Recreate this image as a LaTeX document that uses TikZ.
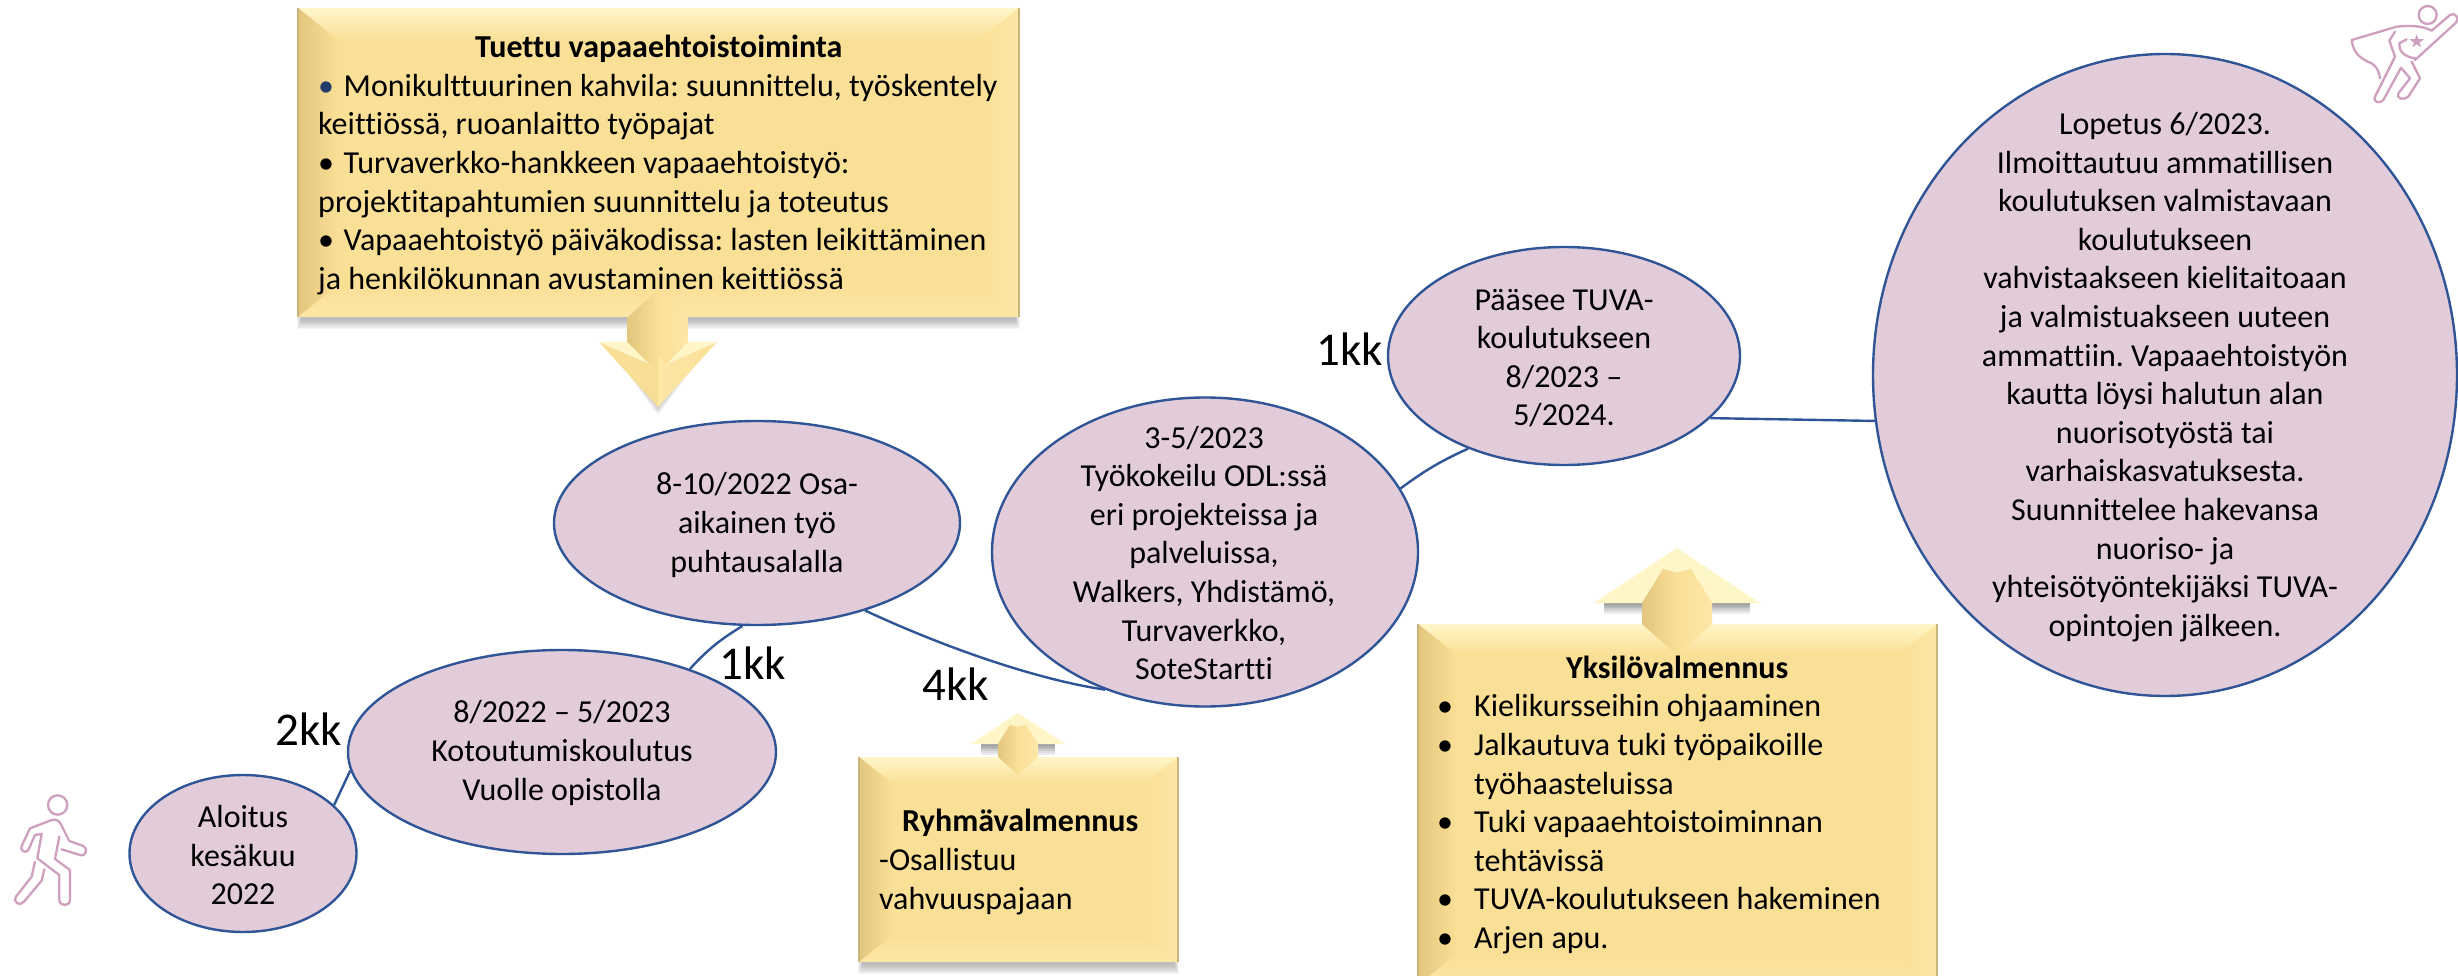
\documentclass[tikz,border=0pt]{standalone}
\usepackage{fontspec}
\setmainfont[Ligatures=NoCommon]{Carlito}
\usetikzlibrary{shapes.geometric,calc}
\definecolor{ellfill}{HTML}{E3CCDA}
\definecolor{ellline}{HTML}{2F5597}
\definecolor{boxmid}{HTML}{FADF96}
\definecolor{boxlight}{HTML}{FFF6C8}
\definecolor{boxdark}{HTML}{E3C67E}
\definecolor{boxrim}{HTML}{FDE7A6}
\definecolor{boxedge}{HTML}{C9B47C}
\definecolor{iconcol}{HTML}{CF9FBF}
\tikzset{
  ell/.style={ellipse,draw=ellline,line width=2.4pt,fill=ellfill,inner sep=0pt},
  conn/.style={draw=ellline,line width=2.4pt},
  bodytext/.style={inner sep=0pt,align=center,text=black,font=\fontsize{32pt}{38.6pt}\selectfont},
  lefttext/.style={inner sep=0pt,align=left,text=black,anchor=west,font=\fontsize{32pt}{38.6pt}\selectfont},
  kk/.style={inner sep=0pt,text=black,font=\fontsize{47pt}{50pt}\selectfont},
  icon/.style={draw=iconcol,line width=2.3pt,line cap=round,line join=round},
  boxbase/.style={fill=boxmid,draw=none,inner sep=0pt}
}
% name, left, top, right, bottom, bevel
\newcommand{\bevelbox}[6]{%
  \foreach \s in {1,...,8}{\fill[black,opacity=.035] ({#2+4-\s*.6},{#3+6}) rectangle ({#4-4+\s*.6},{#5+2+\s*1.3});}
  \node[boxbase,minimum width={(#4-#2)*1pt},minimum height={(#5-#3)*1pt}] (#1) at ({(#2+#4)/2},{(#3+#5)/2}) {};
  \shade[top color=boxlight,bottom color=boxmid] (#2,#3) -- (#4,#3) -- ({#4-#6},{#3+#6*.8}) -- ({#2+#6},{#3+#6*.8}) -- cycle;
  \shade[left color=boxdark,right color=boxmid] (#2,#3) -- ({#2+#6},{#3+#6*.8}) -- ({#2+#6},{#5-#6*.8}) -- (#2,#5) -- cycle;
  \shade[left color=boxmid,right color=boxrim] (#4,#3) -- ({#4-#6},{#3+#6*.8}) -- ({#4-#6},{#5-#6*.8}) -- (#4,#5) -- cycle;
  \shade[top color=boxmid,bottom color=boxrim] (#2,#5) -- (#4,#5) -- ({#4-#6},{#5-#6*.8}) -- ({#2+#6},{#5-#6*.8}) -- cycle;
  \draw[boxedge,line width=1.4pt] (#4,#3) -- (#4,#5);
  \draw[boxedge,line width=1.4pt] (#2,#3) -- (#2,#5);
}
% cx, apex y, wing half, wing y, shaft half, box edge y, tip y
\newcommand{\uparrowshape}[7]{%
  \foreach \s in {1,...,6}{%
    \fill[black,opacity=.07] ({#1-#3+10},{#4}) rectangle ({#1-#5},{#4+\s*1.8});
    \fill[black,opacity=.07] ({#1+#5},{#4}) rectangle ({#1+#3-10},{#4+\s*1.8});}
  \fill[boxlight] (#1,#2) -- ({#1+#3},#4) -- ({#1-#3},#4) -- cycle;
  \shade[left color=boxdark,right color=boxmid] ({#1-#5},#4) -- ({#1-#5*.4},{#4-(#4-#2)*.62}) -- (#1,{#4-(#4-#2)*.55}) -- (#1,#7) -- ({#1-#5},#6) -- cycle;
  \shade[left color=boxmid,right color=boxrim] ({#1+#5},#4) -- ({#1+#5*.4},{#4-(#4-#2)*.62}) -- (#1,{#4-(#4-#2)*.55}) -- (#1,#7) -- ({#1+#5},#6) -- cycle;
}
\begin{document}
\frenchspacing
\begin{tikzpicture}[x=1pt,y=-1pt]
\useasboundingbox (0,0) rectangle (2458,976);
\fill[white] (0,0) rectangle (2458,976);

\node[ell,minimum width=227pt,minimum height=157pt] (alo) at (243,853.5) {};
\node[ell,minimum width=428pt,minimum height=204pt] (koto) at (562,752) {};
\node[ell,minimum width=406pt,minimum height=204pt] (osa) at (757,523) {};
\node[ell,minimum width=426pt,minimum height=309pt] (tyo) at (1205,552) {};
\node[ell,minimum width=352pt,minimum height=218pt] (paa) at (1564,356) {};
\node[ell,minimum width=584pt,minimum height=642pt] (lop) at (2165,375) {};

\draw[conn] (alo.28) -- (koto.185);
\draw[conn] (koto.33) to[bend left=8] (osa.262);
\draw[conn] (osa.-39) .. controls (950,650) and (1040,680) .. (tyo.234);
\draw[conn] (tyo.18) to[bend left=6] (paa.224);
\draw[conn] (paa.-23) -- (lop.189.5);

\node[bodytext] (talo) at (243,855) {Aloitus\\kesäkuu\\2022};
\node[bodytext] (tkoto) at (562,753) {8/2022 – 5/2023\\Kotoutumiskoulutus\\Vuolle opistolla};
\node[bodytext] (tosa) at (757,525) {8-10/2022 Osa-\\aikainen työ\\puhtausalalla};
\node[bodytext] (ttyo) at (1204,553) {3-5/2023\\Työkokeilu ODL:ssä\\eri projekteissa ja\\palveluissa,\\Walkers, Yhdistämö,\\Turvaverkko,\\SoteStartti};
\node[bodytext] (tpaa) at (1564,358) {Pääsee TUVA-\\koulutukseen\\8/2023 –\\5/2024.};
\node[bodytext] (tlop) at (2165,377) {Lopetus 6/2023.\\Ilmoittautuu ammatillisen\\koulutuksen valmistavaan\\koulutukseen\\vahvistaakseen kielitaitoaan\\ja valmistuakseen uuteen\\ammattiin. Vapaaehtoistyön\\kautta löysi halutun alan\\nuorisotyöstä tai\\varhaiskasvatuksesta.\\Suunnittelee hakevansa\\nuoriso- ja\\yhteisötyöntekijäksi TUVA-\\opintojen jälkeen.};

\node[kk] (k2) at (309,729) {2kk};
\node[kk] (k1a) at (753,663) {1kk};
\node[kk] (k4) at (956,684) {4kk};
\node[kk] (k1b) at (1350,349) {1kk};

% boxes
\bevelbox{b1}{298}{8}{1019}{317}{40}
\bevelbox{b2}{859}{757}{1178}{962}{33}
\bevelbox{b3}{1418}{624}{1937}{985}{38}

% down arrow
\foreach \s in {1,...,6}{%
  \fill[black,opacity=.03] (605,342) -- (711,342) -- (658,{407+\s*1.5}) -- cycle;
  \fill[black,opacity=.04] (627,318) rectangle (688,{318+\s*2});}
\shade[left color=boxdark,right color=boxmid] (627,318) -- (658,290) -- (658,370) -- (627,350) -- cycle;
\shade[left color=boxmid,right color=boxrim] (688,318) -- (658,290) -- (658,370) -- (688,350) -- cycle;
\shade[left color=boxmid,right color=boxmid!92!boxdark] (599,342) -- (649,364) -- (658,356) -- (658,407) -- cycle;
\shade[left color=boxrim,right color=boxmid] (717,342) -- (667,364) -- (658,356) -- (658,407) -- cycle;
\fill[boxlight] (599,342) -- (627,342) -- (649,364) -- cycle;
\fill[boxlight] (717,342) -- (688,342) -- (667,364) -- cycle;

% up arrows
\uparrowshape{1018}{713}{47}{744}{20}{757}{775}
\uparrowshape{1677}{548}{83}{603}{35}{624}{655}

\node[lefttext] (t1) at (318,165) {\hspace*{157pt}\textbf{Tuettu vapaaehtoistoiminta}\\\makebox[25.5pt][l]{{\color{ellline!70!black}\textbullet}}Monikulttuurinen kahvila: suunnittelu, työskentely\\keittiössä, ruoanlaitto työpajat\\\makebox[25.5pt][l]{\textbullet}Turvaverkko-hankkeen vapaaehtoistyö:\\projektitapahtumien suunnittelu ja toteutus\\\makebox[25.5pt][l]{\textbullet}Vapaaehtoistyö päiväkodissa: lasten leikittäminen\\ja henkilökunnan avustaminen keittiössä};
\node[lefttext] (t2) at (879,862) {\hspace*{23pt}\textbf{Ryhmävalmennus}\\-Osallistuu\\vahvuuspajaan};
\node[lefttext] (t3) at (1437,805) {\hspace*{129pt}\textbf{Yksilövalmennus}\\\makebox[37pt][l]{\textbullet}Kielikursseihin ohjaaminen\\\makebox[37pt][l]{\textbullet}Jalkautuva tuki työpaikoille\\\hspace*{37pt}työhaasteluissa\\\makebox[37pt][l]{\textbullet}Tuki vapaaehtoistoiminnan\\\hspace*{37pt}tehtävissä\\\makebox[37pt][l]{\textbullet}TUVA-koulutukseen hakeminen\\\makebox[37pt][l]{\textbullet}Arjen apu.};

% walker icon
\begin{scope}[shift={(0,760)},x=.3333pt,y=-.3333pt]
\draw[icon] (173,135) circle[radius=29];
\draw[icon] (125,222) -- (105,225) -- (85,270) .. controls (78,282) and (58,272) .. (65,258) -- (90,205) -- (155,180) .. controls (170,177) and (178,183) .. (183,193) -- (208,243) -- (250,258) .. controls (265,265) and (258,292) .. (240,285) -- (185,268);
\draw[icon] (125,222) -- (112,295) -- (178,345) -- (178,420) .. controls (178,440) and (210,440) .. (210,420) -- (210,330) -- (165,297) -- (178,230);
\draw[icon] (105,305) -- (95,350) -- (48,410) .. controls (38,428) and (60,440) .. (72,425) -- (125,362) -- (133,328);
\end{scope}

% superhero icon
\begin{scope}[shift={(2300,0)},x=.3333pt,y=-.3333pt]
\draw[icon] (383,45) circle[radius=27];
\draw[icon] (155,120) -- (290,80) .. controls (330,75) and (370,78) .. (395,92) -- (450,45) .. controls (465,35) and (480,55) .. (468,68) -- (345,180);
\draw[icon] (155,120) .. controls (160,165) and (190,180) .. (215,190) .. controls (230,200) and (238,215) .. (240,235);
\draw[icon] (285,95) -- (268,122) -- (285,170) -- (225,290) .. controls (218,308) and (240,312) .. (250,300) -- (303,203) -- (330,235) -- (295,280) .. controls (288,295) and (310,303) .. (325,290) -- (360,235) -- (335,185);
\draw[icon] (320,118) -- (298,130) .. controls (295,150) and (310,170) .. (345,175);
\fill[iconcol] (350,103) -- (355,117) -- (372,118) -- (358,128) -- (363,142) -- (350,133) -- (337,142) -- (342,128) -- (328,118) -- (345,117) -- cycle;
\end{scope}
\end{tikzpicture}
\end{document}
